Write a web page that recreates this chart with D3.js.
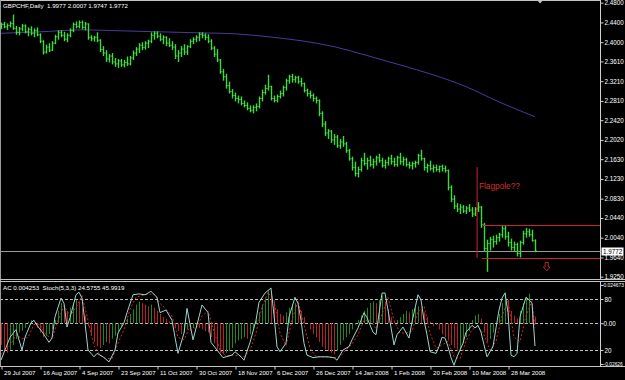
<!DOCTYPE html>
<html><head><meta charset="utf-8">
<script src="https://cdn.jsdelivr.net/npm/d3@7"></script>
<style>
body{margin:0;background:#000;overflow:hidden}
svg{display:block}
text{font-family:"Liberation Sans",Arial,sans-serif;white-space:pre}
</style>
</head><body>
<svg id="c" width="625" height="380"></svg>
<script>
// ---------------- DATA ----------------
const symbolTitle = "GBPCHF,Daily  1.9977 2.0007 1.9747 1.9772";
const indicatorTitle = "AC 0.004253  Stoch(5,3,3) 24.5755 45.9919";
const dateLabels = ["29 Jul 2007","16 Aug 2007","4 Sep 2007","23 Sep 2007","11 Oct 2007","30 Oct 2007","18 Nov 2007","6 Dec 2007","26 Dec 2007","14 Jan 2008","1 Feb 2008","20 Feb 2008","10 Mar 2008","28 Mar 2008"];
const dateTickBars = [0,13,26,39,52,65,78,91,104,117,130,143,156,169];
const priceTicks = [2.4800,2.4400,2.4000,2.3610,2.3210,2.2810,2.2420,2.2020,2.1630,2.1230,2.0830,2.0440,2.0040,1.9640,1.9250];
const acTicks = [0.024673,0,-0.02626];
const acTickLabels = ["0.024673","0.00","-0.02626"];
const stochLevels = [80,20];
const lastPrice = 1.9772;

const open = [2.432,2.436,2.431,2.434,2.438,2.428,2.420,2.427,2.433,2.421,
2.426,2.418,2.424,2.415,2.402,2.380,2.390,2.384,2.398,2.411,
2.420,2.414,2.406,2.414,2.424,2.436,2.432,2.440,2.430,2.437,
2.410,2.407,2.410,2.404,2.385,2.378,2.366,2.372,2.360,2.356,
2.362,2.354,2.359,2.356,2.368,2.378,2.386,2.394,2.389,2.398,
2.402,2.414,2.418,2.412,2.406,2.410,2.398,2.394,2.390,2.372,
2.378,2.386,2.380,2.391,2.402,2.406,2.410,2.416,2.414,2.410,
2.402,2.388,2.376,2.364,2.340,2.330,2.312,2.300,2.292,2.286,
2.284,2.276,2.272,2.266,2.262,2.268,2.270,2.286,2.298,2.306,
2.310,2.286,2.282,2.290,2.296,2.308,2.322,2.330,2.324,2.328,
2.320,2.316,2.302,2.296,2.292,2.286,2.282,2.256,2.234,2.216,
2.220,2.202,2.208,2.190,2.198,2.194,2.180,2.164,2.146,2.134,
2.142,2.160,2.154,2.160,2.152,2.158,2.166,2.160,2.150,2.156,
2.164,2.158,2.152,2.166,2.158,2.162,2.152,2.150,2.154,2.156,
2.170,2.164,2.146,2.150,2.144,2.146,2.142,2.148,2.144,2.140,
2.106,2.082,2.068,2.062,2.066,2.058,2.064,2.060,2.052,2.062,
2.066,2.030,1.982,1.992,2.000,1.996,2.004,2.010,2.022,2.006,
1.994,1.984,1.990,1.972,1.994,2.012,2.016,2.010,1.9977];
const high = [2.440,2.441,2.438,2.442,2.456,2.433,2.431,2.437,2.436,2.430,
2.432,2.428,2.430,2.418,2.404,2.395,2.398,2.402,2.415,2.424,
2.424,2.421,2.418,2.428,2.440,2.442,2.444,2.444,2.441,2.438,
2.414,2.413,2.420,2.406,2.392,2.384,2.376,2.378,2.368,2.366,
2.366,2.364,2.371,2.372,2.383,2.390,2.398,2.400,2.402,2.405,
2.420,2.422,2.422,2.418,2.414,2.412,2.408,2.402,2.396,2.384,
2.392,2.396,2.394,2.406,2.410,2.414,2.420,2.420,2.418,2.416,
2.406,2.392,2.386,2.366,2.346,2.336,2.320,2.305,2.298,2.292,
2.290,2.282,2.278,2.272,2.272,2.276,2.290,2.304,2.314,2.334,
2.312,2.292,2.294,2.302,2.312,2.326,2.334,2.336,2.332,2.332,
2.328,2.318,2.306,2.302,2.296,2.290,2.284,2.260,2.240,2.224,
2.222,2.214,2.212,2.204,2.210,2.198,2.184,2.168,2.158,2.148,
2.166,2.176,2.166,2.170,2.164,2.170,2.174,2.166,2.162,2.168,
2.172,2.166,2.170,2.176,2.168,2.166,2.158,2.158,2.160,2.174,
2.182,2.166,2.154,2.160,2.152,2.152,2.150,2.152,2.150,2.142,
2.110,2.090,2.074,2.072,2.070,2.068,2.072,2.066,2.066,2.076,
2.068,2.034,2.000,2.006,2.008,2.010,2.014,2.030,2.028,2.016,
2.002,1.996,1.994,1.998,2.018,2.024,2.022,2.020,2.0007];
const low = [2.426,2.428,2.425,2.430,2.425,2.415,2.414,2.422,2.418,2.412,
2.414,2.410,2.412,2.398,2.375,2.377,2.380,2.382,2.396,2.405,
2.410,2.402,2.400,2.410,2.420,2.428,2.428,2.426,2.424,2.405,
2.402,2.401,2.400,2.380,2.372,2.360,2.359,2.355,2.350,2.348,
2.350,2.349,2.352,2.353,2.364,2.372,2.378,2.384,2.385,2.388,
2.398,2.405,2.408,2.402,2.396,2.392,2.390,2.384,2.366,2.360,
2.370,2.374,2.374,2.388,2.396,2.400,2.402,2.408,2.404,2.398,
2.384,2.370,2.360,2.336,2.322,2.306,2.296,2.286,2.280,2.276,
2.272,2.268,2.262,2.258,2.256,2.260,2.266,2.280,2.294,2.302,
2.282,2.278,2.278,2.286,2.290,2.302,2.316,2.318,2.318,2.316,
2.310,2.298,2.290,2.286,2.280,2.276,2.250,2.228,2.210,2.204,
2.196,2.192,2.186,2.184,2.188,2.176,2.160,2.140,2.128,2.126,
2.138,2.150,2.142,2.148,2.144,2.150,2.156,2.146,2.144,2.150,
2.152,2.148,2.148,2.152,2.150,2.148,2.144,2.142,2.146,2.152,
2.160,2.140,2.136,2.140,2.136,2.138,2.136,2.138,2.136,2.100,
2.076,2.062,2.056,2.052,2.054,2.052,2.056,2.046,2.048,2.056,
2.024,1.976,1.935,1.978,1.984,1.990,1.996,2.004,2.000,1.986,
1.978,1.976,1.966,1.964,1.990,2.004,2.006,1.996,1.9747];
const close = [2.436,2.431,2.434,2.438,2.428,2.420,2.427,2.433,2.421,2.426,
2.418,2.424,2.415,2.402,2.380,2.390,2.384,2.398,2.411,2.420,
2.414,2.406,2.414,2.424,2.436,2.432,2.440,2.430,2.437,2.410,
2.407,2.410,2.404,2.385,2.378,2.366,2.372,2.360,2.356,2.362,
2.354,2.359,2.356,2.368,2.378,2.386,2.394,2.389,2.398,2.402,
2.414,2.418,2.412,2.406,2.410,2.398,2.394,2.390,2.372,2.378,
2.386,2.380,2.391,2.402,2.406,2.410,2.416,2.414,2.410,2.402,
2.388,2.376,2.364,2.340,2.330,2.312,2.300,2.292,2.286,2.284,
2.276,2.272,2.266,2.262,2.268,2.270,2.286,2.298,2.306,2.310,
2.286,2.282,2.290,2.296,2.308,2.322,2.330,2.324,2.328,2.320,
2.316,2.302,2.296,2.292,2.286,2.282,2.256,2.234,2.216,2.220,
2.202,2.208,2.190,2.198,2.194,2.180,2.164,2.146,2.134,2.142,
2.160,2.154,2.160,2.152,2.158,2.166,2.160,2.150,2.156,2.164,
2.158,2.152,2.166,2.158,2.162,2.152,2.150,2.154,2.156,2.170,
2.164,2.146,2.150,2.144,2.146,2.142,2.148,2.144,2.140,2.106,
2.082,2.068,2.062,2.066,2.058,2.064,2.060,2.052,2.062,2.066,
2.030,1.982,1.992,2.000,1.996,2.004,2.010,2.022,2.006,1.994,
1.984,1.990,1.972,1.994,2.012,2.016,2.010,1.998,1.9772];

const maBars = [0,13,27,40,53,66,78,89,100,111,122,133,144,155,166,178];
const maValues = [2.418,2.421,2.425,2.423,2.421,2.419,2.417,2.411,2.403,2.391,2.373,2.354,2.334,2.310,2.279,2.249];

const acValues = [-0.014,-0.018,-0.019,-0.017,-0.014,-0.010,-0.006,-0.005,-0.003,0.001,
0.002,0.000,-0.003,-0.006,-0.009,-0.008,-0.007,-0.004,0.002,0.008,
0.013,0.011,0.008,0.010,0.013,0.015,0.014,0.010,0.005,-0.002,
-0.008,-0.012,-0.015,-0.016,-0.014,-0.012,-0.013,-0.010,-0.008,-0.005,
-0.002,0.000,0.003,0.006,0.009,0.012,0.014,0.013,0.012,0.011,
0.012,0.010,0.008,0.006,0.004,0.003,0.001,-0.001,-0.003,-0.005,
-0.007,-0.006,-0.004,-0.005,-0.003,-0.002,-0.003,-0.004,-0.005,-0.006,
-0.009,-0.013,-0.017,-0.019,-0.020,-0.019,-0.018,-0.016,-0.013,-0.011,
-0.010,-0.009,-0.010,-0.007,-0.003,0.002,0.007,0.012,0.016,0.021,
0.019,0.014,0.009,0.006,0.005,0.007,0.010,0.012,0.013,0.011,
0.008,0.004,0.000,-0.004,-0.007,-0.009,-0.012,-0.015,-0.017,-0.018,
-0.019,-0.020,-0.018,-0.014,-0.011,-0.009,-0.007,-0.004,-0.001,0.002,
0.005,0.008,0.010,0.013,0.014,0.013,0.015,0.018,0.014,0.009,
0.004,0.001,0.002,0.004,0.006,0.008,0.007,0.009,0.010,0.011,
0.009,0.007,0.004,0.001,-0.002,-0.001,-0.004,-0.007,-0.009,-0.011,
-0.014,-0.016,-0.018,-0.017,-0.013,-0.009,-0.005,0.002,0.005,0.006,
0.003,-0.006,-0.012,-0.010,-0.006,-0.001,0.006,0.013,0.020,0.015,
0.008,0.005,0.003,0.008,0.013,0.017,0.019,0.011,0.004253];

const stochBars = [0,3,5,7,8,10,11,12,14,16,17,18,20,21,22,23,25,26,27,28,29,31,32,34,36,38,39,41,42,44,46,48,50,52,53,55,57,58,59,61,62,64,66,67,69,70,72,74,75,77,78,80,81,83,85,86,88,90,91,92,93,95,96,98,99,100,101,102,104,106,109,111,112,114,116,117,119,121,122,124,125,127,128,129,131,132,134,136,137,139,140,141,142,143,145,146,147,148,149,150,151,152,154,155,157,158,159,160,161,162,164,165,166,167,168,169,170,171,172,173,175,176,177,178];
const stochMain = [8,35,44,20,35,52,55,49,40,29,34,59,81,75,47,58,85,88,81,52,20,12,16,12,6,20,40,52,64,85,86,85,89,82,64,67,55,35,16,40,69,32,59,73,64,29,20,11,12,14,18,12,8,29,55,76,87,93,61,24,18,28,59,82,75,55,28,14,11,12,12,11,8,20,24,32,46,64,58,41,38,87,87,67,26,38,47,34,53,85,79,55,38,18,16,24,35,34,24,11,2,12,28,41,49,46,49,41,26,12,24,46,67,81,87,64,14,12,16,59,82,79,75,24.5755];
const signalBars = [0,3,5,7,9,11,13,15,17,19,21,23,25,27,29,31,33,35,37,39,41,43,45,48,51,53,55,57,59,61,63,65,67,69,71,73,75,78,81,83,85,87,89,91,93,95,97,99,101,103,105,108,111,113,115,117,119,121,123,125,127,129,131,133,135,137,139,141,143,145,147,149,151,153,155,157,159,161,163,165,167,169,171,173,175,177,178];
const stochSignal = [15,25,38,33,35,50,50,38,33,55,72,60,70,84,55,25,14,10,10,28,44,68,82,85,86,75,68,60,35,32,48,45,60,66,42,20,13,14,12,20,40,70,88,78,40,25,55,78,50,22,12,12,11,12,20,27,38,55,55,45,62,82,55,40,40,42,65,72,40,22,26,30,12,10,30,44,48,38,20,30,60,78,35,30,60,78,45.9919];

// annotations (bar index / price anchors)
const flagpole = {bar:158.7, top:2.147, bottom:1.963};
const flagLines = [{fromBar:160.7, price:2.030},{fromBar:160.3, price:1.963}];
const flagText = {text:"Flagpole??", bar:159.3, price:2.1035};
const arrowMark = {bar:181.9, price:1.9447};
const shiftMarkBar = 179.7;

// ---------------- DRAW ----------------
const W = 625, H = 380;
const svg = d3.select("#c");
svg.append("rect").attr("width",W).attr("height",H).attr("fill","#000");

const x = d3.scaleLinear().domain([0,178]).range([1,535]);
const y = d3.scaleLinear().domain([1.925,2.48]).range([276.7,2.7]);
const yS = d3.scaleLinear().domain([0,100]).range([367,282]);
const yA = d3.scaleLinear().domain([-0.02626,0.024673]).range([364,285]);
const AXX = 600;

const defs = svg.append("defs");
defs.append("clipPath").attr("id","mainClip").append("rect").attr("x",1).attr("y",1).attr("width",AXX-1).attr("height",278);
defs.append("clipPath").attr("id","subClip").append("rect").attr("x",1).attr("y",282).attr("width",AXX-1).attr("height",84);

const main = svg.append("g").attr("clip-path","url(#mainClip)");
const sub = svg.append("g").attr("clip-path","url(#subClip)");

// current price (bid) line
main.append("line").attr("x1",0).attr("x2",AXX).attr("y1",Math.round(y(lastPrice))+0.5).attr("y2",Math.round(y(lastPrice))+0.5)
  .attr("stroke","#9a9a9a").attr("stroke-width",1);

// moving average
main.append("path").datum(maBars.map((b,k)=>[b,maValues[k]]))
  .attr("d", d3.line().x(d=>x(d[0])).y(d=>y(d[1])).curve(d3.curveMonotoneX))
  .attr("fill","none").attr("stroke","#4a3a9c").attr("stroke-width",1);

// OHLC bars
const idx = d3.range(close.length);
const barCol = "#38dc38";
const bars = main.append("g").attr("stroke",barCol);
bars.selectAll("line.hl").data(idx).join("line").attr("class","hl")
  .attr("stroke-width",1.4)
  .attr("x1",i=>x(i)+0.5).attr("x2",i=>x(i)+0.5).attr("y1",i=>y(high[i])).attr("y2",i=>y(low[i]));
bars.selectAll("line.o").data(idx).join("line").attr("class","o")
  .attr("stroke-width",1).attr("stroke","#66ee66")
  .attr("x1",i=>x(i)-0.5).attr("x2",i=>x(i)+0.5).attr("y1",i=>y(open[i])).attr("y2",i=>y(open[i]));
bars.selectAll("line.c").data(idx).join("line").attr("class","c")
  .attr("stroke-width",1).attr("stroke","#66ee66")
  .attr("x1",i=>x(i)+0.5).attr("x2",i=>x(i)+1.6).attr("y1",i=>y(close[i])).attr("y2",i=>y(close[i]));

// annotations
const red = "#c8262a";
main.append("line").attr("x1",x(flagpole.bar)).attr("x2",x(flagpole.bar)).attr("y1",y(flagpole.top)).attr("y2",y(flagpole.bottom))
  .attr("stroke",red).attr("stroke-width",1);
flagLines.forEach(l=>{
  main.append("line").attr("x1",x(l.fromBar)).attr("x2",AXX).attr("y1",Math.round(y(l.price))+0.5).attr("y2",Math.round(y(l.price))+0.5)
    .attr("stroke",red).attr("stroke-width",1);
});
main.append("text").attr("x",x(flagText.bar)).attr("y",y(flagText.price)).attr("fill","#d03030")
  .attr("font-size",8.3).text(flagText.text);
{
  const ax = x(arrowMark.bar), ay = y(arrowMark.price);
  const p = d3.path();
  p.moveTo(ax-1.6,ay-4.5); p.lineTo(ax+1.6,ay-4.5); p.lineTo(ax+1.6,ay); p.lineTo(ax+3.4,ay);
  p.lineTo(ax,ay+4); p.lineTo(ax-3.4,ay); p.lineTo(ax-1.6,ay); p.closePath();
  main.append("path").attr("d",p.toString()).attr("fill","none").attr("stroke",red).attr("stroke-width",0.9);
}

// title
svg.append("text").attr("x",3).attr("y",8).attr("fill","#ffffff").attr("font-size",6.2).text(symbolTitle);

// shift marker
{
  const sx = x(shiftMarkBar);
  svg.append("path").attr("d",`M${sx-3},0L${sx+3},0L${sx},3.5Z`).attr("fill","#c8c8c8");
}

// ---- indicator subwindow ----
const levelYs = [yS(stochLevels[0]), yA(0), yS(stochLevels[1])];
sub.selectAll("line.lvl").data(levelYs).join("line").attr("class","lvl")
  .attr("x1",0).attr("x2",AXX).attr("y1",d=>Math.round(d)+0.5).attr("y2",d=>Math.round(d)+0.5)
  .attr("stroke","#bdbdbd").attr("stroke-width",1).attr("stroke-dasharray","3,2");

sub.selectAll("line.ac").data(idx).join("line").attr("class","ac")
  .attr("x1",i=>x(i)+0.5).attr("x2",i=>x(i)+0.5).attr("y1",yA(0)).attr("y2",i=>yA(acValues[i]))
  .attr("stroke",i=> (i>0 && acValues[i]>acValues[i-1]) ? "#1f8a1f" : "#b82222").attr("stroke-width",1);

sub.append("path").datum(signalBars.map((b,k)=>[b,stochSignal[k]]))
  .attr("d", d3.line().x(d=>x(d[0])).y(d=>yS(d[1])))
  .attr("fill","none").attr("stroke","#d42424").attr("stroke-width",1).attr("stroke-dasharray","2,2");
sub.append("path").datum(stochBars.map((b,k)=>[b,stochMain[k]]))
  .attr("d", d3.line().x(d=>x(d[0])).y(d=>yS(d[1])))
  .attr("fill","none").attr("stroke","#9ad6cf").attr("stroke-width",1);

svg.append("text").attr("x",3).attr("y",290).attr("fill","#ffffff").attr("font-size",6.2).text(indicatorTitle);

// ---- frames ----
const frame = "#c4c4c4";
svg.append("line").attr("x1",0).attr("x2",AXX).attr("y1",0.5).attr("y2",0.5).attr("stroke",frame);
svg.append("line").attr("x1",0.5).attr("x2",0.5).attr("y1",0).attr("y2",367).attr("stroke","#9a9a9a");
svg.append("line").attr("x1",0).attr("x2",W).attr("y1",279.5).attr("y2",279.5).attr("stroke",frame);
svg.append("line").attr("x1",0).attr("x2",W).attr("y1",281.5).attr("y2",281.5).attr("stroke",frame);
svg.append("line").attr("x1",0).attr("x2",W).attr("y1",366.5).attr("y2",366.5).attr("stroke",frame);

// ---- axes ----
function styleAxis(g, fs){
  g.select(".domain").attr("stroke","#d0d0d0");
  g.selectAll(".tick line").attr("stroke","#d0d0d0");
  g.selectAll(".tick text").attr("fill","#ffffff").attr("font-size",fs).attr("font-family","Liberation Sans, Arial, sans-serif");
}
const pAxis = svg.append("g").attr("transform",`translate(${AXX+0.5},0)`)
  .call(d3.axisRight(y).tickValues(priceTicks).tickFormat(d3.format(".4f")).tickSize(3).tickPadding(1));
pAxis.select(".domain").attr("d","M0,0V279");
styleAxis(pAxis,6.3);

const sAxis = svg.append("g").attr("transform",`translate(${AXX+0.5},0)`)
  .call(d3.axisRight(yS).tickValues(stochLevels).tickFormat(d3.format("d")).tickSize(3).tickPadding(1));
sAxis.select(".domain").attr("d","M0,281V367");
styleAxis(sAxis,6.3);
const aAxis = svg.append("g").attr("transform",`translate(${AXX+0.5},0)`)
  .call(d3.axisRight(yA).tickValues(acTicks).tickFormat((d,k)=>acTickLabels[k]).tickSize(3).tickPadding(0));
aAxis.select(".domain").remove();
styleAxis(aAxis,6.3);
aAxis.selectAll(".tick text").filter((d,k)=>acTickLabels[k].length>5).attr("font-size",4.9);

const dAxis = svg.append("g").attr("transform","translate(0.5,366.5)")
  .call(d3.axisBottom(x).tickValues(dateTickBars).tickFormat((d,k)=>dateLabels[k]).tickSize(3).tickPadding(1));
dAxis.select(".domain").remove();
styleAxis(dAxis,6.1);
dAxis.selectAll(".tick text").attr("text-anchor","start").attr("x",2).attr("dy","0.71em");

// price label box
{
  const py = Math.round(y(lastPrice));
  svg.append("rect").attr("x",601.5).attr("y",py-3.5).attr("width",22).attr("height",8).attr("fill","#ffffff");
  svg.append("text").attr("x",603).attr("y",py+2.6).attr("fill","#000").attr("font-size",6.3).text(d3.format(".4f")(lastPrice));
}
</script>
</body></html>
